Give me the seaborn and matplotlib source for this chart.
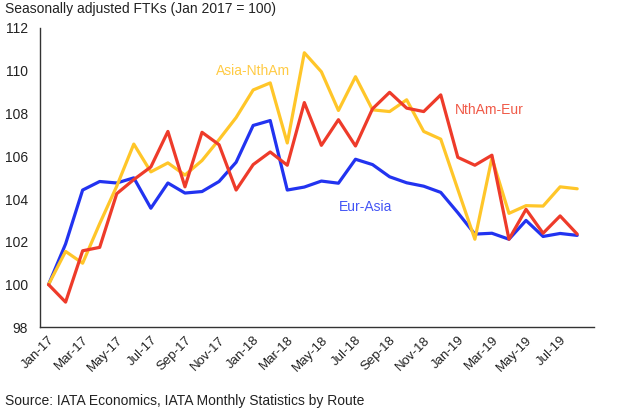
import matplotlib
matplotlib.use('Agg')
import matplotlib.pyplot as plt
import pandas as pd
import seaborn as sns

# Meses de Jan-17 a Aug-19
months = pd.date_range('2017-01-01', '2019-08-01', freq='MS')
month_labels = [d.strftime('%b-%y') for d in months]

eur_asia = [100.0, 101.9, 104.42, 104.82, 104.75, 104.99, 103.57, 104.75, 104.28, 104.35,
            104.82, 105.72, 107.44, 107.67, 104.42, 104.56, 104.84, 104.74, 105.86, 105.61,
            105.04, 104.76, 104.6, 104.31, 103.36, 102.36, 102.4, 102.12, 103.0, 102.25,
            102.39, 102.3]
asia_ntham = [100.0, 101.55, 101.0, 102.85, 104.6, 106.57, 105.27, 105.69, 105.12, 105.8,
              106.78, 107.81, 109.1, 109.43, 106.62, 110.84, 109.95, 108.14, 109.72, 108.17,
              108.09, 108.64, 107.16, 106.8, 104.45, 102.12, 105.92, 103.33, 103.69, 103.67,
              104.57, 104.48]
ntham_eur = [100.0, 99.18, 101.58, 101.74, 104.25, 104.91, 105.5, 107.16, 104.57, 107.12,
             106.54, 104.42, 105.61, 106.2, 105.58, 108.51, 106.51, 107.71, 106.48, 108.22,
             108.99, 108.25, 108.09, 108.87, 105.95, 105.58, 106.05, 102.12, 103.52, 102.4,
             103.21, 102.36]

series_names = ['Eur-Asia', 'Asia-NthAm', 'NthAm-Eur']
colors = {'Eur-Asia': '#2233F0', 'Asia-NthAm': '#FFC629', 'NthAm-Eur': '#EE3B2A'}
label_colors = {'Eur-Asia': '#4455F5', 'Asia-NthAm': '#FFCB45', 'NthAm-Eur': '#F05A48'}

df = pd.DataFrame({'idx': range(len(months)), 'Eur-Asia': eur_asia,
                   'Asia-NthAm': asia_ntham, 'NthAm-Eur': ntham_eur})
df_long = df.melt(id_vars='idx', var_name='route', value_name='value')

sns.set_style('white')
plt.rcParams['font.family'] = ['Liberation Sans', 'DejaVu Sans']

fig = plt.figure(figsize=(6.4, 4.17), dpi=100)
ax = fig.add_axes([0.0625, 0.215, 0.866, 0.718])

sns.lineplot(data=df_long, x='idx', y='value', hue='route', hue_order=series_names,
             palette=colors, linewidth=2.3, ax=ax, legend=False)

# Rótulos das séries
ax.text(12.0, 110.0, 'Asia-NthAm', color=label_colors['Asia-NthAm'], fontsize=10,
        ha='center', va='center')
ax.text(25.85, 108.14, 'NthAm-Eur', color=label_colors['NthAm-Eur'], fontsize=10,
        ha='center', va='center')
ax.text(18.6, 103.63, 'Eur-Asia', color=label_colors['Eur-Asia'], fontsize=10,
        ha='center', va='center')

ax.set_xlim(-0.5, len(months) - 0.5 + 0.5)
ax.set_ylim(98, 112)
ax.set_yticks(range(98, 113, 2))
ax.set_xticks(range(0, len(months), 2))
ax.set_xticklabels(month_labels[::2], rotation=45, ha='right', rotation_mode='anchor')
ax.set_xticks([i - 0.5 for i in range(0, len(months) + 2, 2)], minor=True)
ax.tick_params(axis='x', which='major', length=0, labelsize=9.5, pad=5, labelcolor='#222222')
ax.tick_params(axis='x', which='minor', length=4, width=1, color='#333333', direction='out')
ax.tick_params(axis='y', length=5, width=1, color='#333333', direction='out', labelsize=10,
               labelcolor='#222222')
ax.set_xlabel('')
ax.set_ylabel('')

for s in ['top', 'right']:
    ax.spines[s].set_visible(False)
for s in ['left', 'bottom']:
    ax.spines[s].set_color('#333333')
    ax.spines[s].set_linewidth(1)

fig.text(0.008, 0.996, 'Seasonally adjusted FTKs (Jan 2017 = 100)', fontsize=10,
         ha='left', va='top', color='#222222')
fig.text(0.008, 0.038, 'Source: IATA Economics, IATA Monthly Statistics by Route', fontsize=10,
         ha='left', va='center', color='#222222')

fig.savefig('out.png', dpi=100)
